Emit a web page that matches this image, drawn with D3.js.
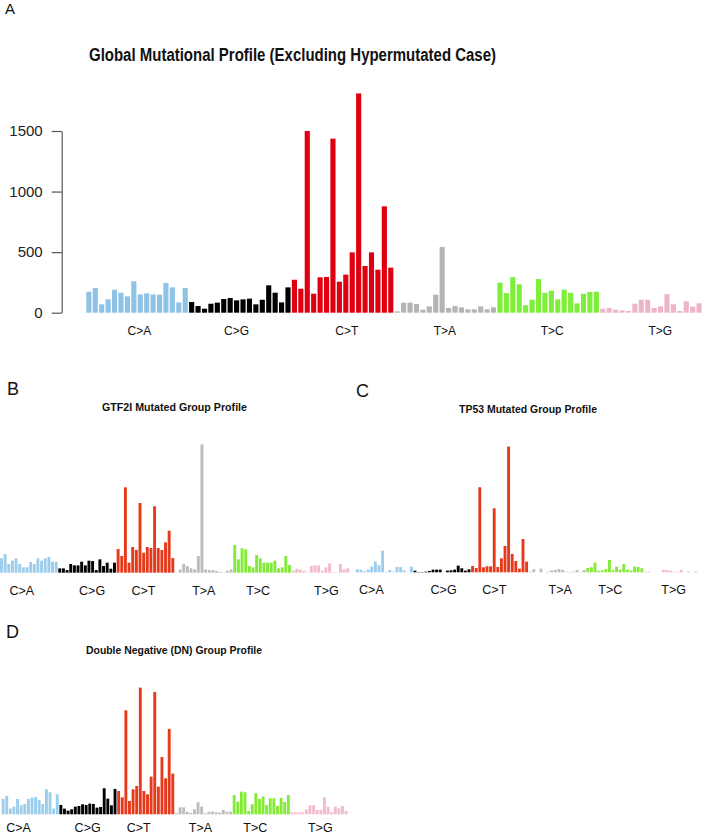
<!DOCTYPE html>
<html>
<head>
<meta charset="utf-8">
<script src="https://cdn.jsdelivr.net/npm/d3@7"></script>
<style>
  html, body { margin: 0; padding: 0; background: #fff; }
  svg { display: block; }
  text { font-family: "Liberation Sans", Arial, sans-serif; }
</style>
</head>
<body>
<svg id="chart" width="703" height="835"></svg>
<script>
// ---------------- DATA ----------------
const mutationTypes = ["C>A", "C>G", "C>T", "T>A", "T>C", "T>G"];
const bases = ["A", "C", "G", "T"];

// Panel A: global counts (96 trinucleotide channels, 16 per mutation type)
const globalCounts = [
  173, 204, 69, 110, 190, 165, 135, 259, 151, 160, 151, 149, 245, 209, 85, 204,
  88, 55, 33, 74, 83, 113, 121, 102, 110, 116, 69, 107, 226, 165, 85, 209,
  272, 198, 1500, 157, 292, 295, 1437, 256, 314, 498, 1810, 385, 498, 355, 878, 372,
  11, 83, 83, 72, 25, 52, 149, 542, 39, 55, 44, 28, 28, 52, 28, 44,
  248, 162, 294, 234, 61, 107, 278, 165, 182, 110, 190, 165, 77, 157, 171, 173,
  33, 39, 25, 19, 14, 74, 107, 107, 39, 52, 154, 69, 14, 94, 50, 77
];
// Panels B-D: relative profiles (no axis shown)
const gtf2iCounts = [
  43, 56, 26, 36, 43, 26, 16, 16, 32, 26, 43, 36, 43, 47, 33, 33,
  13, 13, 8, 26, 22, 22, 33, 22, 36, 35, 8, 40, 20, 30, 12, 30,
  71, 50, 256, 30, 77, 68, 209, 60, 77, 74, 199, 74, 68, 91, 126, 44,
  1, 10, 26, 20, 13, 10, 50, 385, 10, 8, 8, 5, 2, 1, 6, 10,
  83, 40, 73, 70, 20, 16, 53, 43, 30, 30, 30, 36, 13, 16, 50, 23,
  6, 12, 10, 6, 1, 20, 22, 22, 6, 16, 28, 2, 1, 26, 10, 13
];
const tp53Counts = [
  9, 7, 3, 8, 17, 32, 21, 65, 1, 7, 2, 16, 16, 6, 1, 17,
  5, 1, 1, 2, 4, 8, 8, 8, 0, 5, 6, 8, 20, 12, 5, 9,
  19, 13, 255, 15, 18, 18, 192, 16, 42, 79, 377, 55, 34, 11, 100, 32,
  2, 9, 0, 11, 0, 2, 6, 7, 10, 7, 2, 1, 2, 7, 1, 7,
  13, 15, 29, 4, 6, 10, 37, 6, 17, 8, 25, 8, 5, 17, 16, 12,
  2, 2, 0, 0, 0, 7, 7, 5, 2, 2, 7, 0, 3, 0, 3, 0
];
const dnCounts = [
  46, 55, 17, 23, 46, 27, 31, 46, 50, 52, 43, 31, 75, 66, 17, 60,
  28, 17, 11, 15, 23, 25, 30, 28, 32, 31, 20, 22, 78, 47, 27, 76,
  70, 51, 312, 40, 75, 85, 380, 70, 60, 113, 367, 83, 172, 108, 256, 122,
  3, 21, 21, 8, 4, 15, 36, 23, 3, 8, 8, 6, 5, 13, 8, 8,
  58, 38, 68, 66, 10, 30, 63, 46, 53, 28, 48, 48, 25, 49, 37, 58,
  6, 6, 6, 6, 15, 27, 27, 13, 13, 51, 23, 6, 23, 18, 25, 10
];
const yTicksA = [0, 500, 1000, 1500];

// channel names, e.g. A[C>A]A
const channels = [];
mutationTypes.forEach(m => bases.forEach(l => bases.forEach(r => channels.push(l + "[" + m + "]" + r))));

// ---------------- STYLE / LAYOUT ----------------
const coloursA = ["#8ec3e6", "#000000", "#de0010", "#b4b4b4", "#7eee3a", "#eeb5c6"];
const coloursBCD = ["#9ccdec", "#000000", "#e63a1c", "#bdbdbd", "#84ea3a", "#f2bccb"];

const panels = [
  { letter: "A", letterX: 5, letterY: 14, letterSize: 15,
    title: "Global Mutational Profile (Excluding Hypermutated Case)",
    titleX: 292.5, titleY: 61, titleSize: 18, titleLen: 407,
    values: globalCounts, colours: coloursA,
    x0: 85.66, x1: 702.3, base: 312.7, domainMax: 1500, topPx: 131.0,
    labelY: 334.5, labelSize: 12, nudges: [2.4, -3.2, 4.2, -0.4, 4, 9.4], axis: true },
  { letter: "B", letterX: 7, letterY: 395, letterSize: 18,
    title: "GTF2I Mutated Group Profile",
    titleX: 174.5, titleY: 410.5, titleSize: 10, titleLen: 145,
    values: gtf2iCounts, colours: coloursBCD,
    x0: -0.36, x1: 349.6, base: 572.7, domainMax: 385, topPx: 444.3,
    labelY: 595, labelSize: 12.5, nudges: [-7, 5, -2, 0, -4, 6], axis: false },
  { letter: "C", letterX: 356, letterY: 397, letterSize: 18,
    title: "TP53 Mutated Group Profile",
    titleX: 528, titleY: 413, titleSize: 10, titleLen: 138,
    values: tp53Counts, colours: coloursBCD,
    x0: 355.6, x1: 701.2, base: 572.3, domainMax: 377, topPx: 446.6,
    labelY: 594, labelSize: 12.5, nudges: [-13, 1.6, -5.3, 3, -4.5, 1.2], axis: false },
  { letter: "D", letterX: 6, letterY: 638, letterSize: 18,
    title: "Double Negative (DN) Group Profile",
    titleX: 174, titleY: 653.5, titleSize: 10, titleLen: 176,
    values: dnCounts, colours: coloursBCD,
    x0: 1.3, x1: 347.9, base: 814.3, domainMax: 380, topPx: 687.6,
    labelY: 831.5, labelSize: 12.5, nudges: [-11.6, -0.3, -7, -3, -6, 1.3], axis: false }
];

// ---------------- DRAW ----------------
const svg = d3.select("#chart");

panels.forEach(p => {
  const g = svg.append("g");
  const x = d3.scaleBand().domain(channels).range([p.x0, p.x1])
    .paddingInner(0.2).paddingOuter(0.1);
  const y = d3.scaleLinear().domain([0, p.domainMax]).range([p.base, p.topPx]);
  const data = channels.map((c, i) => ({ c, v: p.values[i], t: Math.floor(i / 16) }));

  g.selectAll("rect").data(data).join("rect")
    .attr("x", d => x(d.c))
    .attr("y", d => y(d.v))
    .attr("width", x.bandwidth())
    .attr("height", d => y(0) - y(d.v))
    .attr("fill", d => p.colours[d.t]);

  // group labels
  g.selectAll("text.grp").data(mutationTypes).join("text")
    .attr("class", "grp")
    .attr("x", (m, k) => {
      const a = x(channels[k * 16]);
      const b = x(channels[k * 16 + 15]) + x.bandwidth();
      return (a + b) / 2 + p.nudges[k];
    })
    .attr("y", p.labelY)
    .attr("text-anchor", "middle")
    .attr("font-size", p.labelSize)
    .attr("fill", "#111")
    .text(m => m);

  // title
  g.append("text")
    .attr("x", p.titleX).attr("y", p.titleY)
    .attr("text-anchor", "middle")
    .attr("font-size", p.titleSize)
    .attr("font-weight", "bold")
    .attr("fill", "#111")
    .attr("textLength", p.titleLen)
    .attr("lengthAdjust", "spacingAndGlyphs")
    .text(p.title);

  // panel letter
  g.append("text")
    .attr("x", p.letterX).attr("y", p.letterY)
    .attr("font-size", p.letterSize)
    .attr("fill", "#111")
    .text(p.letter);

  if (p.axis) {
    const ax = g.append("g")
      .attr("transform", "translate(61.7,0)")
      .call(d3.axisLeft(y).tickValues(yTicksA).tickSize(10).tickSizeOuter(0).tickPadding(9).tickFormat(d3.format("d")));
    ax.select(".domain").attr("stroke", "#555").attr("stroke-width", 1.2);
    ax.selectAll(".tick line").attr("stroke", "#555").attr("stroke-width", 1.2);
    ax.selectAll(".tick text")
      .attr("font-size", 15)
      .attr("font-family", "Liberation Sans, Arial, sans-serif")
      .attr("fill", "#222");
  }
});
</script>
</body>
</html>
